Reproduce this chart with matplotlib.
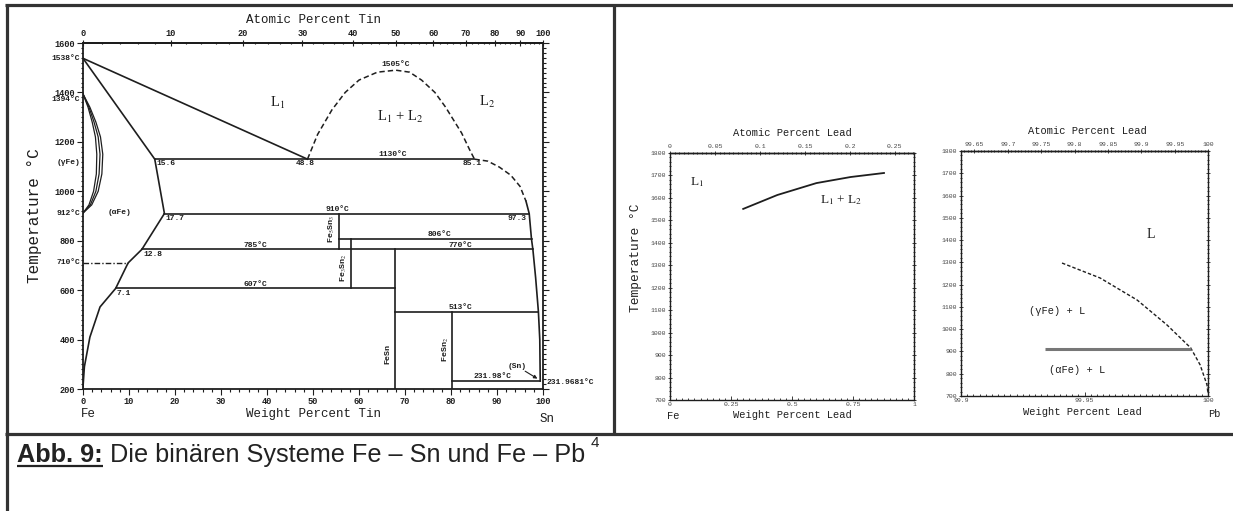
import numpy as np
import matplotlib
matplotlib.use('Agg')
import matplotlib.pyplot as plt
from matplotlib.lines import Line2D
from matplotlib.ticker import FixedLocator, FixedFormatter, MultipleLocator

plt.rcParams['mathtext.fontset'] = 'stix'

W, H = 1233, 511
fig = plt.figure(figsize=(W / 100, H / 100), dpi=100)
fig.patch.set_facecolor('white')

INK = '#1e1e1e'
FRAME = '#333333'
MONO = ['Liberation Mono', 'DejaVu Sans Mono']
SERIF = ['Liberation Serif', 'DejaVu Serif']
SANS = ['Liberation Sans', 'DejaVu Sans']

M_FE, M_SN, M_PB = 55.845, 118.71, 207.2

# ---------------- Fe-Sn data (wt% Sn, deg C) ----------------
sn_liq1_wt = [0, 48.8]
sn_liq1_T = [1538, 1130]
sn_sol_wt = [0, 15.6]
sn_sol_T = [1538, 1130]
sn_fe_bound_wt = [15.6, 17.7, 12.8, 9.8, 7.1, 3.7, 1.5, 0.3, 0.0]
sn_fe_bound_T = [1130, 910, 765, 710, 607, 532, 410, 290, 208]
gamma_outer_wt = [0, 1.5, 2.8, 3.8, 4.3, 4.1, 3.3, 1.9, 0]
gamma_outer_T = [1394, 1340, 1280, 1220, 1150, 1070, 1000, 945, 912]
gamma_mid_wt = [0, 1.3, 2.4, 3.3, 3.7, 3.5, 2.8, 1.6, 0]
gamma_mid_T = [1394, 1340, 1280, 1220, 1150, 1070, 1000, 945, 912]
gamma_inner_wt = [0, 1.1, 2.0, 2.7, 3.0, 2.9, 2.3, 1.3, 0]
gamma_inner_T = [1394, 1340, 1280, 1220, 1150, 1070, 1000, 945, 912]
dome_wt = [48.8, 51.0, 54.1, 57.0, 60.0, 64.0, 68.0, 71.0, 73.6, 76.5, 78.8, 82.3, 84.0, 85.1]
dome_T = [1130, 1230, 1329, 1400, 1450, 1482, 1490, 1482, 1450, 1400, 1341, 1236, 1170, 1130]
sn_liq2_dash_wt = [85.1, 88.0, 90.5, 93.0, 95.0, 96.3]
sn_liq2_dash_T = [1130, 1122, 1098, 1065, 1020, 960]
sn_liq2_wt = [96.3, 97.0, 97.5, 97.8, 98.4, 99.0, 99.3, 99.4]
sn_liq2_T = [960, 910, 806, 765, 650, 513, 400, 232]
iso_T = [1130, 910, 806, 765, 607, 513, 232]
iso_from = [15.6, 17.7, 55.7, 12.8, 7.1, 67.8, 80.2]
iso_to = [85.1, 97.0, 97.5, 97.8, 67.8, 99.0, 99.4]
cmp_wt = [55.7, 58.3, 67.8, 80.2]
cmp_Ttop = [910, 806, 765, 513]
cmp_Tbot = [765, 607, 200, 200]
dd_T = 710
dd_wt = [0, 9.8]
sn_x_ticks = [0, 10, 20, 30, 40, 50, 60, 70, 80, 90, 100]
sn_at_ticks = [0, 10, 20, 30, 40, 50, 60, 70, 80, 90, 100]
sn_y_ticks = [200, 400, 600, 800, 1000, 1200, 1400, 1600]

# ---------------- Fe-Pb data ----------------
pb1_wt = [0.30, 0.44, 0.60, 0.74, 0.877]
pb1_T = [1551, 1613, 1666, 1693, 1711]
pb2_wt = [99.9409, 99.9563, 99.9713, 99.9834, 99.9930, 99.9968, 99.9996, 100.0]
pb2_T = [1297, 1230, 1131, 1019, 916, 840, 750, 709]
pb2_iso_T = 912
pb2_iso_wt = [99.934, 99.993]
pb_y_ticks = [700, 800, 900, 1000, 1100, 1200, 1300, 1400, 1500, 1600, 1700, 1800]
pb1_x_ticks = [0, 0.25, 0.5, 0.75, 1]
pb1_x_labels = ['0', '0.25', '0.5', '0.75', '1']
pb1_at_ticks = [0, 0.05, 0.1, 0.15, 0.2, 0.25]
pb1_at_labels = ['0', '0.05', '0.1', '0.15', '0.2', '0.25']
pb2_x_ticks = [99.9, 99.95, 100]
pb2_x_labels = ['99.9', '99.95', '100']
pb2_at_ticks = [99.65, 99.7, 99.75, 99.8, 99.85, 99.9, 99.95, 100]
pb2_at_labels = ['99.65', '99.7', '99.75', '99.8', '99.85', '99.9', '99.95', '100']


def wt_to_at(w, m):
    w = np.asarray(w, float)
    with np.errstate(divide='ignore', invalid='ignore'):
        return 100 * (w / m) / ((w / m) + (100 - w) / M_FE)


def at_to_wt(a, m):
    a = np.asarray(a, float)
    with np.errstate(divide='ignore', invalid='ignore'):
        return 100 * (a * m) / ((a * m) + (100 - a) * M_FE)


def axes_px(l, t, r, b):
    return fig.add_axes([l / W, 1 - b / H, (r - l) / W, (b - t) / H])


def fig_line(xs, ys, lw, color=FRAME):
    fig.add_artist(Line2D([x / W for x in xs], [1 - y / H for y in ys],
                          lw=lw, color=color, transform=fig.transFigure,
                          solid_capstyle='butt'))


def ftext(x, y, s, **kw):
    return fig.text(x / W, 1 - y / H, s, **kw)


# ---------------- frame ----------------
fig_line([5, W], [5.5, 5.5], 2.3)
fig_line([6.5, 6.5], [4, H], 2.3)
fig_line([613.5, 613.5], [4, 434], 2.3)
fig_line([5, W], [434, 434], 2.3)


def style_axes(ax, tsize, major_len, lw):
    for s in ax.spines.values():
        s.set_linewidth(lw)
        s.set_color(INK)
    ax.tick_params(which='both', direction='out', colors=INK, width=0.8,
                   labelsize=tsize, top=False, right=True, pad=1.5)
    ax.tick_params(which='major', length=major_len)
    ax.tick_params(which='minor', length=major_len * 0.45)
    ax.tick_params(axis='y', which='both', right=True, direction='out')
    for lab in ax.get_xticklabels() + ax.get_yticklabels():
        lab.set_family(MONO)
        lab.set_fontweight('bold')


# ================= Fe-Sn =================
ax = axes_px(83, 43, 543, 389)
ax.set_xlim(0, 100)
ax.set_ylim(200, 1600)
lw = 1.2
ax.plot(sn_liq1_wt, sn_liq1_T, color=INK, lw=lw)
ax.plot(sn_sol_wt, sn_sol_T, color=INK, lw=lw)
ax.plot(sn_fe_bound_wt, sn_fe_bound_T, color=INK, lw=lw)
for gx, gy in [(gamma_outer_wt, gamma_outer_T), (gamma_mid_wt, gamma_mid_T),
               (gamma_inner_wt, gamma_inner_T)]:
    ax.plot(gx, gy, color=INK, lw=0.9)
ax.plot(dome_wt, dome_T, color=INK, lw=1.1, ls=(0, (3.5, 2)))
ax.plot(sn_liq2_dash_wt, sn_liq2_dash_T, color=INK, lw=1.1, ls=(0, (3.5, 2)))
ax.plot(sn_liq2_wt, sn_liq2_T, color=INK, lw=lw)
for T, a, b in zip(iso_T, iso_from, iso_to):
    ax.plot([a, b], [T, T], color=INK, lw=lw)
for x, t1, t2 in zip(cmp_wt, cmp_Ttop, cmp_Tbot):
    ax.plot([x, x], [t1, t2], color=INK, lw=lw)
ax.plot(dd_wt, [dd_T, dd_T], color=INK, lw=1.0, ls=(0, (4, 1.5, 1, 1.5)))

ax.xaxis.set_major_locator(FixedLocator(sn_x_ticks))
ax.xaxis.set_minor_locator(MultipleLocator(2))
ax.yaxis.set_major_locator(FixedLocator(sn_y_ticks))
ax.yaxis.set_minor_locator(MultipleLocator(20))
style_axes(ax, 6.2, 4, 1.3)

sec = ax.secondary_xaxis('top', functions=(lambda w: wt_to_at(w, M_SN),
                                           lambda a: at_to_wt(a, M_SN)))
sec.xaxis.set_major_locator(FixedLocator(sn_at_ticks))
sec.xaxis.set_minor_locator(FixedLocator(list(range(0, 101, 2))))
sec.tick_params(which='major', length=4, width=0.8, labelsize=6.2, pad=1.5, colors=INK, direction='inout')
sec.tick_params(which='minor', length=2, width=0.8, colors=INK, direction='inout')
for lab in sec.get_xticklabels():
    lab.set_family(MONO)
    lab.set_fontweight('bold')
sec.spines['top'].set_linewidth(1.3)

small = dict(family=MONO, fontsize=5.8, fontweight='bold', color=INK)
sn_labels = [
    ('1505°C', 68, 1500, 'center', 'bottom'),
    ('1130°C', 67.4, 1134, 'center', 'bottom'),
    ('15.6', 15.9, 1125, 'left', 'top'),
    ('48.8', 48.3, 1125, 'center', 'top'),
    ('85.1', 84.6, 1125, 'center', 'top'),
    ('17.7', 18.0, 905, 'left', 'top'),
    ('910°C', 55.2, 913, 'center', 'bottom'),
    ('97.3', 96.5, 905, 'right', 'top'),
    ('806°C', 77.6, 809, 'center', 'bottom'),
    ('785°C', 37.4, 768, 'center', 'bottom'),
    ('12.8', 13.1, 760, 'left', 'top'),
    ('770°C', 82.0, 767, 'center', 'bottom'),
    ('607°C', 37.4, 610, 'center', 'bottom'),
    ('7.1', 7.4, 602, 'left', 'top'),
    ('513°C', 82.0, 516, 'center', 'bottom'),
    ('231.98°C', 89.0, 235, 'center', 'bottom'),
    ('(αFe)', 8.0, 915, 'center', 'center'),
]
for s, x, y, ha, va in sn_labels:
    ax.text(x, y, s, ha=ha, va=va, **small)
for s, y in [('1538°C', 1538), ('1394°C', 1372), ('(γFe)', 1118), ('912°C', 912), ('710°C', 710)]:
    ax.text(-0.6, y, s, ha='right', va='center', clip_on=False, **small)
ax.text(100.8, 226, '231.9681°C', ha='left', va='center', clip_on=False, **small)
ax.text(94.3, 293, '(Sn)', ha='center', va='center', **small)
ax.annotate('', xy=(99.3, 236), xytext=(95.6, 278),
            arrowprops=dict(arrowstyle='-|>', color=INK, lw=0.8, mutation_scale=5))

cmp_lbl = [('Fe$_5$Sn$_3$', 54.1, 846), ('Fe$_3$Sn$_2$', 56.7, 690),
           ('FeSn', 66.2, 341), ('FeSn$_2$', 78.8, 358)]
for s, x, y in cmp_lbl:
    ax.text(x, y, s, rotation=90, ha='center', va='center', family=MONO,
            fontsize=6, fontweight='bold', color=INK)

ser = dict(family=SERIF, fontsize=10.5, color=INK, ha='center', va='center')
ax.text(42.2, 1357, 'L$_1$', **ser)
ax.text(68.9, 1300, 'L$_1$ + L$_2$', **ser)
ax.text(87.8, 1361, 'L$_2$', **ser)

ftext(313, 20, 'Atomic Percent Tin', family=MONO, fontsize=9, color=INK, ha='center', va='center')
ftext(313, 414, 'Weight Percent Tin', family=MONO, fontsize=9, color=INK, ha='center', va='center')
ftext(88, 414, 'Fe', family=MONO, fontsize=9, color=INK, ha='center', va='center')
ftext(547, 419, 'Sn', family=MONO, fontsize=9, color=INK, ha='center', va='center')
ftext(35, 216, 'Temperature °C', family=MONO, fontsize=11.5, color=INK, ha='center', va='center', rotation=90)

# ================= Fe-Pb panels =================
GREY = '#444444'


def pb_axes(l, t, r, b, xlim, xt, xl, at_t, at_l):
    a = axes_px(l, t, r, b)
    a.set_xlim(*xlim)
    a.set_ylim(700, 1800)
    a.xaxis.set_major_locator(FixedLocator(xt))
    a.xaxis.set_major_formatter(FixedFormatter(xl))
    a.xaxis.set_minor_locator(MultipleLocator((xlim[1] - xlim[0]) / 40))
    a.yaxis.set_major_locator(FixedLocator(pb_y_ticks))
    a.yaxis.set_major_formatter(FixedFormatter([str(v) for v in pb_y_ticks]))
    a.yaxis.set_minor_locator(MultipleLocator(20))
    for s in a.spines.values():
        s.set_linewidth(1.0)
        s.set_color(INK)
    a.tick_params(which='both', colors=INK, width=0.6, labelsize=4.6, pad=1.5,
                  direction='out', right=True)
    a.tick_params(axis='x', which='both', direction='in', pad=1.2)
    a.tick_params(axis='y', which='both', right=True, direction='inout')
    a.tick_params(which='major', length=3)
    a.tick_params(which='minor', length=1.4)
    for lab in a.get_xticklabels() + a.get_yticklabels():
        lab.set_family(MONO)
        lab.set_color(GREY)
    sx = a.secondary_xaxis('top', functions=(lambda w: wt_to_at(w, M_PB),
                                             lambda v: at_to_wt(v, M_PB)))
    sx.xaxis.set_major_locator(FixedLocator(at_t))
    sx.xaxis.set_major_formatter(FixedFormatter(at_l))
    step = (at_t[1] - at_t[0]) / 10
    sx.xaxis.set_minor_locator(MultipleLocator(step))
    sx.tick_params(which='major', length=3, width=0.6, labelsize=4.6, pad=1.5, colors=INK, direction='inout')
    sx.tick_params(which='minor', length=1.4, width=0.6, colors=INK, direction='inout')
    for lab in sx.get_xticklabels():
        lab.set_family(MONO)
        lab.set_color(GREY)
    sx.spines['top'].set_linewidth(1.0)
    return a


p1 = pb_axes(670, 153, 914, 400, (0, 1), pb1_x_ticks, pb1_x_labels, pb1_at_ticks, pb1_at_labels)
p1.plot(pb1_wt, pb1_T, color=INK, lw=1.3)
p1.text(0.11, 1671, 'L$_1$', family=SERIF, fontsize=9.5, color=INK, ha='center', va='center')
p1.text(0.70, 1590, 'L$_1$ + L$_2$', family=SERIF, fontsize=9.5, color=INK, ha='center', va='center')
ftext(792, 133, 'Atomic Percent Lead', family=MONO, fontsize=7.5, color=INK, ha='center', va='center')
ftext(792, 415, 'Weight Percent Lead', family=MONO, fontsize=7.5, color=INK, ha='center', va='center')
ftext(673, 416, 'Fe', family=MONO, fontsize=7.5, color=INK, ha='center', va='center')
ftext(636, 258, 'Temperature °C', family=MONO, fontsize=9.3, color=INK, ha='center', va='center', rotation=90)

p2 = pb_axes(961, 151, 1208, 396, (99.9, 100), pb2_x_ticks, pb2_x_labels, pb2_at_ticks, pb2_at_labels)
p2.plot(pb2_wt, pb2_T, color=INK, lw=1.0, ls=(0, (2.5, 1.5)))
p2.plot(pb2_iso_wt, [pb2_iso_T, pb2_iso_T], color='#777777', lw=2.2, solid_capstyle='butt')
p2.text(99.977, 1423, 'L', family=SERIF, fontsize=10, color=INK, ha='center', va='center')
p2.text(99.939, 1082, '(γFe) + L', family=MONO, fontsize=7.5, color=INK, ha='center', va='center')
p2.text(99.947, 817, '(αFe) + L', family=MONO, fontsize=7.5, color=INK, ha='center', va='center')
ftext(1087, 131, 'Atomic Percent Lead', family=MONO, fontsize=7.5, color=INK, ha='center', va='center')
ftext(1082, 412, 'Weight Percent Lead', family=MONO, fontsize=7.5, color=INK, ha='center', va='center')
ftext(1214, 414, 'Pb', family=MONO, fontsize=7.5, color=INK, ha='center', va='center')

# ================= caption =================
CAP = '#222222'
CAP_SIZE = 18.2
t1 = ftext(17, 462, 'Abb. 9:', family=SANS, fontsize=CAP_SIZE, fontweight='bold', color=CAP,
           ha='left', va='baseline')
fig.canvas.draw()
r = fig.canvas.get_renderer()
bb = t1.get_window_extent(r)
x_end = bb.x1
fig.add_artist(Line2D([bb.x0 / W, bb.x1 / W], [(H - 465.5) / H] * 2, lw=1.6, color=CAP,
                      transform=fig.transFigure, solid_capstyle='butt'))
t2 = fig.text(x_end / W, 1 - 462 / H, ' Die binären Systeme Fe – Sn und Fe – Pb', family=SANS,
              fontsize=CAP_SIZE, color=CAP, ha='left', va='baseline')
fig.canvas.draw()
bb2 = t2.get_window_extent(r)
fig.text((bb2.x1 + 6) / W, 1 - 447 / H, '4', family=SANS, fontsize=11, color=CAP,
         ha='left', va='baseline')

fig.savefig('out.png', dpi=100, facecolor='white')
